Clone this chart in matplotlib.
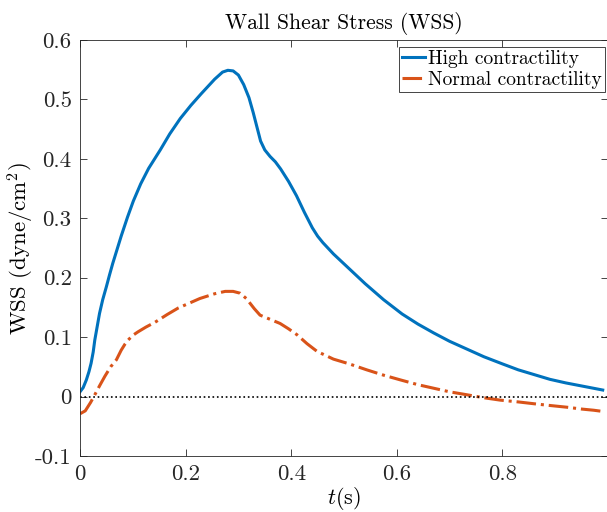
import matplotlib
matplotlib.use("Agg")
import matplotlib.pyplot as plt

# time (s) and wall shear stress (dyne/cm^2)
t_high = [0, 0.006, 0.012, 0.017, 0.021, 0.025, 0.028, 0.033, 0.037, 0.043,
          0.050, 0.056, 0.062, 0.070, 0.078, 0.09, 0.101, 0.115, 0.13, 0.152,
          0.17, 0.19, 0.21, 0.23, 0.255, 0.27, 0.28, 0.29, 0.30, 0.31, 0.32,
          0.328, 0.335, 0.342, 0.35, 0.36, 0.37, 0.38, 0.395, 0.41, 0.425,
          0.44, 0.45, 0.46, 0.48, 0.51, 0.54, 0.575, 0.61, 0.64, 0.67, 0.70,
          0.735, 0.765, 0.80, 0.83, 0.86, 0.89, 0.92, 0.955, 0.99]
wss_high = [0.008, 0.015, 0.028, 0.042, 0.056, 0.075, 0.095, 0.12, 0.14, 0.163,
            0.185, 0.205, 0.224, 0.247, 0.27, 0.302, 0.329, 0.358, 0.384, 0.415,
            0.442, 0.468, 0.49, 0.51, 0.534, 0.546, 0.549, 0.548, 0.541, 0.525,
            0.503, 0.478, 0.454, 0.43, 0.415, 0.404, 0.395, 0.383, 0.362, 0.338,
            0.31, 0.284, 0.27, 0.259, 0.24, 0.215, 0.19, 0.163, 0.139, 0.122,
            0.107, 0.093, 0.079, 0.067, 0.055, 0.045, 0.037, 0.029, 0.023,
            0.017, 0.011]

t_norm = [0, 0.01, 0.02, 0.028, 0.037, 0.047, 0.058, 0.069, 0.078, 0.085,
          0.091, 0.10, 0.11, 0.125, 0.142, 0.165, 0.186, 0.227, 0.255, 0.275,
          0.29, 0.303, 0.315, 0.33, 0.341, 0.36, 0.379, 0.395, 0.411, 0.43,
          0.449, 0.48, 0.51, 0.543, 0.575, 0.607, 0.64, 0.67, 0.70, 0.733,
          0.765, 0.796, 0.83, 0.859, 0.89, 0.923, 0.95, 0.973, 0.99]
wss_norm = [-0.029, -0.024, -0.01, 0.003, 0.018, 0.034, 0.05, 0.062, 0.078,
            0.088, 0.095, 0.103, 0.109, 0.117, 0.125, 0.138, 0.149, 0.165,
            0.173, 0.177, 0.177, 0.174, 0.165, 0.148, 0.137, 0.13, 0.123,
            0.114, 0.104, 0.089, 0.076, 0.063, 0.055, 0.045, 0.036, 0.028,
            0.02, 0.014, 0.008, 0.003, -0.002, -0.006, -0.009, -0.012, -0.015,
            -0.018, -0.021, -0.023, -0.025]

xticks = [0, 0.2, 0.4, 0.6, 0.8]
xticklabels = ["0", "0.2", "0.4", "0.6", "0.8"]
yticks = [-0.1, 0, 0.1, 0.2, 0.3, 0.4, 0.5, 0.6]
yticklabels = ["-0.1", "0", "0.1", "0.2", "0.3", "0.4", "0.5", "0.6"]

plt.rcParams['font.family'] = 'serif'
plt.rcParams['font.serif'] = ['cmr10']
plt.rcParams['mathtext.fontset'] = 'cm'
plt.rcParams['axes.unicode_minus'] = False

fig = plt.figure(figsize=(6.07, 5.12), dpi=100)
ax = fig.add_axes([80 / 607, 1 - 456 / 512, 528 / 607, 416 / 512])

ax.plot(t_high, wss_high, '-', color='#0072BD', lw=2.2,
        solid_joinstyle='round', label='High contractility')
ax.plot(t_norm, wss_norm, '-.', color='#D95319', lw=2.2,
        dash_joinstyle='round', label='Normal contractility')
ax.axhline(0, color='black', ls=':', lw=1.2)

ax.set_xlim(0, 1.0)
ax.set_ylim(-0.1, 0.6)
ax.set_xticks(xticks)
ax.set_xticklabels(xticklabels)
ax.set_yticks(yticks)
ax.set_yticklabels(yticklabels)
ax.tick_params(direction='in', length=5, width=0.6, colors='#262626',
               labelsize=16.5, top=True, right=True, pad=6)
for s in ax.spines.values():
    s.set_color('#262626')
    s.set_linewidth(0.6)

ax.set_title('Wall Shear Stress (WSS)', fontsize=15.5, pad=8)
ax.set_xlabel(r'$t$(s)', fontsize=16, va='top')
ax.xaxis.set_label_coords(0.5, -0.069)
ax.set_ylabel(r'WSS (dyne/cm$^2$)', fontsize=16.5)
ax.yaxis.set_label_coords(-0.084, 0.5)

leg = ax.legend(loc='upper right', bbox_to_anchor=(605 / 607, 1 - 47 / 512),
                bbox_transform=fig.transFigure, borderaxespad=0, fontsize=14,
                handlelength=1.2, handletextpad=0.15, borderpad=0.15,
                labelspacing=0.15, fancybox=False, framealpha=1)
leg.get_frame().set_edgecolor('#262626')
leg.get_frame().set_linewidth(0.6)

fig.savefig('out.png', dpi=100)
